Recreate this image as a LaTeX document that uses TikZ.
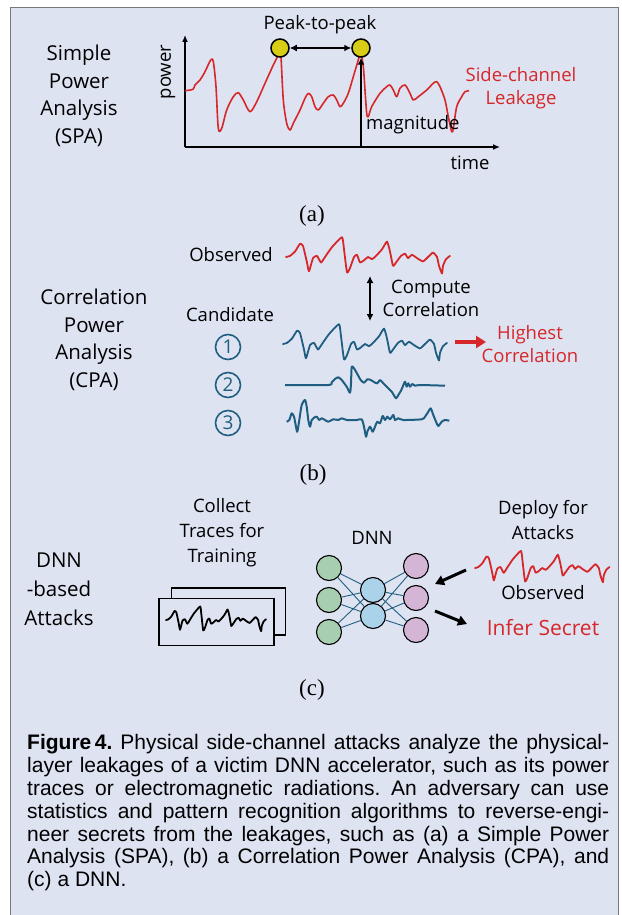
\documentclass[tikz,border=0pt]{standalone}
\usepackage{fontspec}
\setmainfont{Open Sans}
\newfontfamily\capfont{Liberation Sans}
\newfontfamily\subfont{Liberation Serif}
\usetikzlibrary{arrows.meta}

\definecolor{panel}{RGB}{222,227,241}
\definecolor{framegray}{RGB}{120,120,120}
\definecolor{sigred}{RGB}{214,39,42}
\definecolor{trace}{RGB}{31,94,128}
\definecolor{peakyellow}{RGB}{214,205,20}
\definecolor{ngreen}{RGB}{168,206,177}
\definecolor{nblue}{RGB}{170,210,233}
\definecolor{npurple}{RGB}{213,181,214}

\newcommand{\capline}[1]{\makebox[582pt][s]{#1}}

\tikzset{sigtrace/.pic={
\draw[line width=1.8pt,line join=round,line cap=round] plot[smooth,tension=.3] coordinates{
(0,0) (4,-1) (9,-5) (14,-12) (17,-10) (21,5) (23,13) (27,1) (31,-1) (35,5) (39,0) (46,-9)
(56,-18) (58,-7) (61,14) (64,10) (68,0) (71,-2) (74,5) (78,3) (82,0) (86,2) (90,-1) (96,-7)
(101,-14) (104,-5) (107,8) (110,5) (115,-1) (119,-3) (122,1) (126,-2) (131,1) (137,4) (142,0)
(147,-4) (151,0) (153,8) (156,15) (157,8) (160,2) (164,-1)};
}}

\begin{document}
\begin{tikzpicture}[x=1pt,y=-1pt]
\tikzstyle{lbl}=[font=\fontsize{18.5}{23}\selectfont,align=center,inner sep=0pt]
\tikzstyle{biglbl}=[font=\fontsize{20.5}{27.6}\selectfont,align=center,inner sep=0pt]
\tikzstyle{sub}=[font=\subfont\fontsize{23}{23}\selectfont,inner sep=0pt]
\tikzstyle{peak}=[circle,fill=peakyellow,draw,line width=1.5pt,minimum size=18pt,inner sep=0pt]
\tikzstyle{cand}=[circle,draw=trace,line width=1.6pt,minimum size=25pt,inner sep=0pt,text=trace,font=\fontsize{19}{19}\selectfont]
\tikzstyle{neuron}=[circle,draw,line width=1.1pt,minimum size=25pt,inner sep=0pt]
\tikzstyle{link}=[draw=trace,line width=0.9pt]
\tikzstyle{axis}=[line width=2pt,-{Latex[length=7pt,width=6pt]}]
\tikzstyle{fat}=[line width=3pt,-{Triangle[length=9pt,width=10pt]}]
\tikzstyle{tracebox}=[draw,line width=1.6pt,fill=panel,inner sep=0pt]

\useasboundingbox (0,0) rectangle (621,915);
\fill[panel] (10,8) rectangle (618,915);
\draw[framegray,line width=1pt] (10,915) -- (10,8) -- (618,8) -- (618,915);

%(a) simple power analysis
\node[biglbl] (spa) at (79,96) {Simple\\Power\\Analysis\\(SPA)};
\coordinate (origin) at (185,147);
\coordinate (ytop) at (185,35);
\coordinate (xend) at (500,147);
\draw[axis] (origin) -- (ytop);
\draw[axis] (origin) -- (xend);
\node[lbl,rotate=90] (power) at (168,72) {power};
\node[lbl] (time) at (470,163) {time};
\draw[sigred,line width=1.6pt,line join=round] plot[smooth,tension=.5] coordinates{
(185,90.7) (193,89.3) (195,85) (200,80) (205,71.7) (210.7,60) (213.3,61.7) (216,86.7)
(218.3,128.3) (221.7,128.3) (226.7,110) (233.3,96.7) (238.3,92.7) (243.3,100) (250,111.7)
(256.7,101.7) (265,83.3) (273.3,65) (278.3,55) (280,50) (281,56.7) (283.3,100) (286.7,123.3)
(290,130) (293.3,123.3) (300,110) (305,98.3) (308.3,93.3) (311.7,96.7) (315,106.7) (318.3,110)
(323.3,103.3) (328.3,96.7) (333.3,95) (336.7,100) (340,106.7) (343.3,103.3) (348.3,93.3)
(353.3,76.7) (358.3,60) (360.7,52) (363.3,66.7) (365,90) (366.7,113.3) (368.3,116.7)
(371.7,106.7) (380,93.3) (386.7,86.7) (390,85) (393.3,90) (396.7,96.7) (400,88.3) (405,85)
(410,93.3) (413.3,100) (418.3,96.7) (426.7,90) (433.3,83.3) (436.7,81.7) (440,86.7) (445,100)
(448.3,116.7) (451.7,131.7) (453.3,128.3) (456.7,106.7) (461.7,96.7) (465,91.7) (469,90.7)};
\node[peak] (pk1) at (280,48) {};
\node[peak] (pk2) at (361,48) {};
\draw[line width=2.2pt,{Latex[length=7pt,width=7pt]}-{Latex[length=7pt,width=7pt]}] (pk1) -- (pk2);
\node[lbl] (p2p) at (320,25) {Peak-to-peak};
\coordinate (magbase) at (361,147);
\draw[line width=2.6pt,-{Latex[length=7pt,width=7pt]}] (magbase) -- (pk2.south);
\node[lbl,anchor=west] (mag) at (366,125) {magnitude};
\node[lbl,text=sigred] (leak) at (521,88) {Side-channel\\Leakage};
\node[sub] (suba) at (312,216) {(a)};

%(b) correlation power analysis
\node[biglbl] (cpa) at (94,340) {Correlation\\Power\\Analysis\\(CPA)};
\node[lbl] (obs) at (231,255) {Observed};
\pic[color=sigred,yscale=1.1] at (286,257) {sigtrace};
\coordinate (cctop) at (370,276);
\coordinate (ccbot) at (370,321);
\draw[line width=2.2pt,{Latex[length=7pt,width=7pt]}-{Latex[length=7pt,width=7pt]}] (cctop) -- (ccbot);
\node[lbl] (comp) at (431,298) {Compute\\Correlation};
\node[lbl] (cands) at (230,315) {Candidate};
\node[cand] (c1) at (228,347) {1};
\node[cand] (c2) at (228,385) {2};
\node[cand] (c3) at (228,423) {3};
\pic[color=trace,yscale=1.1] at (283,344) {sigtrace};
\draw[trace,line width=2pt,line join=round] plot[smooth,tension=.4] coordinates{
(285,385) (328.3,385) (331.7,382.3) (335,379) (338.3,377.3) (341.7,380) (346.7,386.7)
(350,392.7) (351,383.3) (351.7,366.7) (354,368.3) (357.3,374) (360.7,380) (364,382.7)
(367.3,379.3) (370.7,380) (374,382) (377.3,383.3) (380,380) (383.3,383.3) (387.3,387.3)
(391.7,391.7) (396,398.3) (398.3,395) (401,390.7) (403.3,385.3) (405,381.7) (406.7,386.7)
(408.3,383.3) (410,386.7) (412.3,384) (415,385.7) (420,385) (445,385.7)};
\draw[trace,line width=2pt,line join=round] plot[smooth,tension=.4] coordinates{
(286.7,421.7) (289.3,420) (291.7,413.3) (294,416.7) (296,426.7) (297.3,431.7) (299.3,420)
(301.7,405) (305,400) (306.7,406.7) (308.3,420) (310,426.7) (311.7,420) (314,417.7)
(316.7,416.7) (319.3,420) (321.7,418.3) (325,420) (328.3,421.7) (333.3,419.3) (338.3,420)
(341.7,418.3) (346.7,420) (356.7,420) (361.7,419.3) (364,426.7) (366,436.7) (367.3,431.7)
(370,426.7) (372.7,431.7) (375,426.7) (377.3,421.7) (380,423.3) (382.7,416) (385,420)
(387.3,416.7) (390,419.3) (393.3,415) (395,420) (398.3,418.3) (403.3,420) (421.7,419.3)
(425,416.7) (428.3,411.7) (430.7,408.3) (433.3,415) (436,421.7) (438.3,426) (441.7,421.7)
(445,420) (449.3,420.7)};
\coordinate (histart) at (455,342);
\coordinate (hiend) at (486,342);
\draw[sigred,line width=4pt,-{Triangle[length=10pt,width=12pt]}] (histart) -- (hiend);
\node[lbl,text=sigred] (high) at (530,344) {Highest\\Correlation};
\node[sub] (subb) at (313,475) {(b)};

%(c) dnn-based attacks
\node[biglbl,font=\fontsize{20.5}{29}\selectfont] (dnnatk) at (59,589) {DNN\\-based\\Attacks};
\node[lbl,font=\fontsize{18.5}{25}\selectfont] (collect) at (222,533) {Collect\\Traces for\\Training};
\node[tracebox,minimum width=114pt,minimum height=47pt] (back) at (228.5,611.5) {};
\node[tracebox,minimum width=115pt,minimum height=47pt] (front) at (216.5,622) {};
\pic[color=black,xscale=0.61,yscale=0.75] at (166,620) {sigtrace};
\node[lbl] (dnn) at (372,538) {DNN};
\node[neuron,fill=ngreen] (in1) at (329,568) {};
\node[neuron,fill=ngreen] (in2) at (329,600) {};
\node[neuron,fill=ngreen] (in3) at (329,632) {};
\node[neuron,fill=nblue] (hid1) at (373,590) {};
\node[neuron,fill=nblue] (hid2) at (373,616) {};
\node[neuron,fill=npurple] (out1) at (416,566) {};
\node[neuron,fill=npurple] (out2) at (416,598) {};
\node[neuron,fill=npurple] (out3) at (416,630) {};
\foreach \i in {1,2,3}
\foreach \j in {1,2}{
\draw[link] (in\i) -- (hid\j);
\draw[link] (hid\j) -- (out\i);
}
\node[lbl,font=\fontsize{18.5}{25}\selectfont] (deploy) at (543,520) {Deploy for\\Attacks};
\pic[color=sigred,xscale=0.82,yscale=0.95] at (475,568) {sigtrace};
\node[lbl] (obs2) at (543,593) {Observed};
\node[lbl,text=sigred,font=\fontsize{21}{21}\selectfont] (infer) at (543,628) {Infer Secret};
\coordinate (inarrow) at (466,570);
\coordinate (inhead) at (435,584);
\coordinate (outarrow) at (435,611);
\coordinate (outhead) at (467,624);
\draw[fat] (inarrow) -- (inhead);
\draw[fat] (outarrow) -- (outhead);
\node[sub] (subc) at (312,690) {(c)};

%caption
\node[anchor=north west,inner sep=0pt,align=left,font=\capfont\fontsize{21}{22.9}\selectfont\frenchspacing] (cap) at (27,734) {\capline{\textbf{Figure\,4.} Physical side-channel attacks analyze the physical-}\\
\capline{layer leakages of a victim DNN accelerator, such as its power}\\
\capline{traces or electromagnetic radiations. An adversary can use}\\
\capline{statistics and pattern recognition algorithms to reverse-engi-}\\
\capline{neer secrets from the leakages, such as (a) a Simple Power}\\
\capline{Analysis (SPA), (b) a Correlation Power Analysis (CPA), and}\\
(c) a DNN.};
\end{tikzpicture}
\end{document}
